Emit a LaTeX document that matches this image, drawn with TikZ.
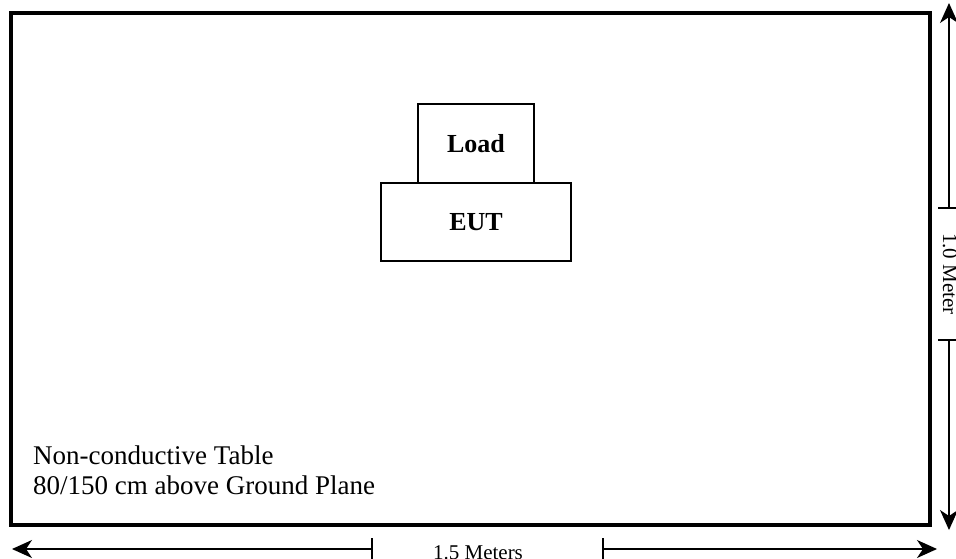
\documentclass[tikz,border=0pt]{standalone}
\usepackage{fontspec}
\setmainfont{Liberation Serif}
\usepackage{tikz}
\usetikzlibrary{arrows.meta,positioning}

\begin{document}
\begin{tikzpicture}[
    x=1pt, y=-1pt,
    tablebox/.style={rectangle, draw, line width=3.5pt, outer sep=0pt, inner sep=0pt},
    unit/.style={rectangle, draw, line width=1.5pt, outer sep=0pt, inner sep=0pt, font=\fontsize{26}{30}\selectfont\bfseries},
    dimline/.style={line width=1.4pt, -{Stealth[length=20pt,width=18pt,inset=6pt]}},
    tick/.style={line width=1.4pt},
    dimlabel/.style={font=\fontsize{21}{24}\selectfont, inner sep=0pt}
]
\useasboundingbox (0,0) rectangle (956,558);

\node[tablebox, minimum width=919pt, minimum height=512pt] (table) at (470.5,269) {};

\node[unit, minimum width=190pt, minimum height=78pt] (eut) at (476,222) {EUT};
\node[unit, minimum width=116pt, minimum height=79pt, above=0pt of eut] (load) {Load};

\node[anchor=base west, inner sep=0pt, font=\fontsize{27}{30}\selectfont] (tabletext1) at (33,464) {Non-conductive Table};
\node[anchor=base west, inner sep=0pt, font=\fontsize{27}{30}\selectfont] (tabletext2) at (33,494) {80/150 cm above Ground Plane};

% width
\coordinate (wleft) at (12,549);
\coordinate (wright) at (937,549);
\coordinate (wtick1) at (372,549);
\coordinate (wtick2) at (603,549);
\node[dimlabel, anchor=base] (wlabel) at (478,559) {1.5 Meters};
\draw[dimline] (wtick1) -- (wleft);
\draw[dimline] (wtick2) -- (wright);
\draw[tick] ([yshift=11pt]wtick1) -- ([yshift=-11pt]wtick1);
\draw[tick] ([yshift=11pt]wtick2) -- ([yshift=-11pt]wtick2);

% depth
\coordinate (dtop) at (949,3);
\coordinate (dbottom) at (949,530);
\coordinate (dtick1) at (949,208);
\coordinate (dtick2) at (949,340);
\node[dimlabel, rotate=-90] (dlabel) at (950,274) {1.0 Meter};
\draw[dimline] (dtick1) -- (dtop);
\draw[dimline] (dtick2) -- (dbottom);
\draw[tick] ([xshift=-11pt]dtick1) -- ([xshift=11pt]dtick1);
\draw[tick] ([xshift=-11pt]dtick2) -- ([xshift=11pt]dtick2);

\end{tikzpicture}
\end{document}
